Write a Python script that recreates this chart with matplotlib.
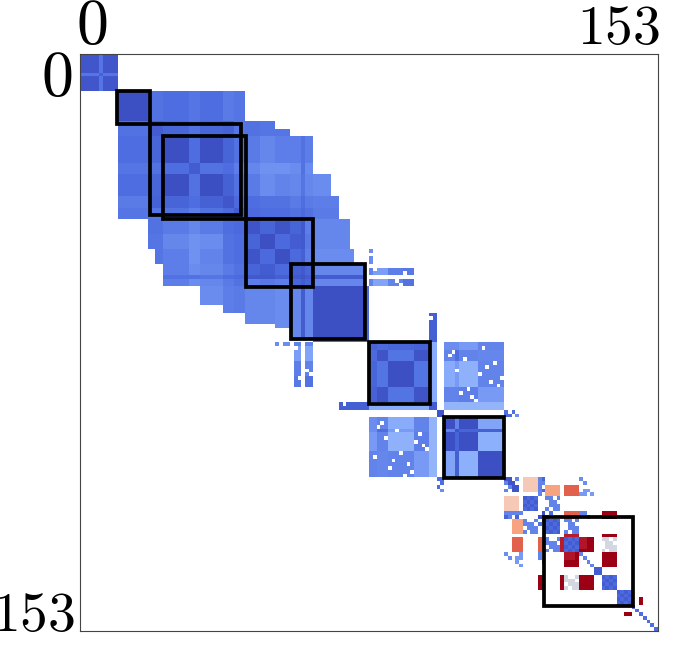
import matplotlib
matplotlib.use("Agg")
import matplotlib.pyplot as plt
import numpy as np
from matplotlib.colors import LinearSegmentedColormap
from matplotlib.patches import Rectangle
from matplotlib.transforms import ScaledTranslation

N = 154

# first isolated block
first_edges = [0, 5, 6, 10]
first_values = [[-.93, -.76, -.93],
                [-.86, -.76],
                [-.93]]

# big chain of overlapping segments, upper triangle by segment
chain_edges = [10, 18, 22, 29, 32, 38, 41, 44, 48, 52, 56, 59, 60, 62, 76]
chain_values = [
    [-.97, -.78, -.8, -.76, -.8, -.74, -.76, 0, 0, 0, 0, 0, 0, 0],
    [-.9, -.84, -.78, -.84, -.86, -.76, -.78, -.76, -.76, -.74, -.74, -.74, -.7],
    [-.97, -.8, -.97, -.85, -.78, -.74, -.68, -.72, -.72, -.78, -.72, -.7],
    [-.9, -.78, -.8, -.72, -.68, -.64, -.64, -.66, -.78, -.66, -.62],
    [-.98, -.87, -.78, -.74, -.66, -.7, -.68, -.76, -.68, -.66],
    [-.93, -.82, -.8, -.78, -.78, -.74, -.8, -.74, -.72],
    [-.9, -.82, -.8, -.8, -.78, -.82, -.78, -.74],
    [-.95, -.85, -.95, -.85, -.92, -.72, -.68],
    [-.97, -.82, -.9, -.92, -.75, -.68],
    [-.97, -.82, -.88, -.72, -.66],
    [-.88, -.92, -.84, -.68],
    [-.95, -.9, -.9],
    [-.85, -.68],
    [-.97],
]
# staircase: rows from this start reach only to the matching column
reach_start = [10, 18, 20, 22, 32, 38, 44, 52, 56]
reach_end = [44, 52, 56, 62, 67, 69, 72, 73, 76]

block6_edges = [77, 79, 82, 89, 93]
block6_values = [[-.85, -.82, -.84, -.86],
                 [-.95, -.77, -.95],
                 [-.97, -.77],
                 [-.95]]

block7_edges = [97, 100, 101, 106, 113]
block7_values = [[-.97, -.7, -.97, -.55],
                 [-.95, -.85, -.88],
                 [-.97, -.5],
                 [-.97]]

# block6 x block7 coupling
coupling_values = [[-.65, -.65, -.6, -.7],
                   [-.7, -.8, -.7, -.68],
                   [-.52, -.6, -.48, -.7],
                   [-.7, -.7, -.72, -.6]]

# row start, row end, col start, col end, value
extra_blocks = [
    (52, 53, 77, 78, -.65), (54, 56, 77, 78, -.65),
    (57, 59, 77, 78, -.7), (57, 59, 78, 82, -.58),
    (57, 59, 82, 86, -.72), (57, 59, 86, 89, -.75),
    (60, 62, 77, 78, -.7), (60, 62, 78, 82, -.55),
    (60, 62, 82, 86, -.7), (60, 62, 86, 89, -.78),
    (62, 77, 76, 77, -.82),
    (69, 77, 93, 95, -.88), (77, 93, 93, 95, -.52),
    (93, 95, 93, 95, -.9), (95, 97, 95, 97, -.95),
    (93, 95, 97, 113, -.45),
    (113, 117, 118, 122, .28), (115, 118, 124, 128, .5),
    (115, 118, 129, 133, .74), (122, 124, 129, 133, .74),
    (122, 124, 139, 143, 1), (128, 129, 139, 143, 1),
    (128, 129, 129, 133, .9), (129, 133, 133, 137, 1),
    (129, 132, 133, 135, .92), (133, 137, 139, 143, 1),
    (137, 139, 137, 139, -.9),
    (145, 147, 149, 150, 1),
]

white_cells = [(78, 107), (79, 99), (80, 98), (81, 102), (82, 110), (83, 108),
               (84, 100), (85, 106), (86, 112), (87, 109), (88, 111), (89, 103),
               (90, 101), (91, 104), (92, 105), (57, 78), (58, 86), (60, 84),
               (61, 85), (70, 93)]

checker_corners = [118, 124, 129, 139, 143]
checker_values = [[-.9, -.82, -.9, -.82],
                  [-.82, -.9, -.82, -.9],
                  [-.9, -.82, -.9, -.82],
                  [-.82, -.9, -.82, -.9]]

# corner block at the start of the red group
corner_values = [[-.95, -.95, 0, -.7],
                 [-.7, -.95, -.95, 0],
                 [0, -.7, -.95, -.95],
                 [-.7, 0, -.95, -.95]]

# sparse 4x4 patterns: row corner, col corner, value
cross_blocks = [(124, 129, -.7), (129, 139, -.07), (118, 124, -.7)]
cross_pattern = [[1, 1, 0, 1],
                 [0, 1, 1, 0],
                 [0, 1, 1, 1],
                 [1, 0, 1, 1]]

sparse_rows = [113, 113, 114, 115, 116, 116, 113, 114, 116, 116, 117, 117, 117,
               122, 122, 122, 122, 123, 122, 122, 122, 123, 124, 125,
               95, 96, 96, 95, 96, 133, 134, 135, 136, 148, 147, 149, 150, 151, 152, 153]
sparse_cols = [122, 123, 123, 122, 122, 123, 133, 134, 134, 135, 133, 134, 136,
               113, 114, 115, 116, 116, 117, 133, 134, 135, 123, 122,
               113, 113, 114, 115, 116, 133, 134, 135, 136, 148, 147, 149, 150, 151, 152, 153]
sparse_values = [-.7, -.85, -.7, -.85, -.7, -.85, -.65, -.65, -.6, -.6, -.6, -.6, -.6,
                 -.7, -.7, -.7, -.7, -.85, -.7, -.7, -.7, -.7, -.9, -.8,
                 -.8, -.8, -.8, -.8, -.65, -.7, -.7, -.7, -.7, -.8, -.8, -.8, -.8, -.8, -.8, -.8]
dark_diag = [(122, 123), (123, 123)]

# outlined communities, start and end in cell units
box_start = [9.9, 18.6, 22.0, 44.1, 56.1, 76.9, 96.9, 123.6]
box_end = [18.6, 43.0, 44.1, 62.2, 76.0, 93.3, 113.1, 147.3]

tick_positions = [0, 154]
tick_labels = [r"$0$", r"$153$"]

matrix = np.zeros((N, N))


def put(r0, r1, c0, c1, v):
    matrix[r0:r1, c0:c1] = v
    matrix[c0:c1, r0:r1] = v


def put_triangle(edges, table):
    for i, row in enumerate(table):
        for j, v in enumerate(row):
            put(edges[i], edges[i + 1], edges[i + j], edges[i + j + 1], v)


put_triangle(first_edges, first_values)
put_triangle(chain_edges, chain_values)

# cut the chain back to its staircase outline
for k, start in enumerate(reach_start):
    stop = reach_start[k + 1] if k + 1 < len(reach_start) else 76
    matrix[start:stop, reach_end[k]:77] = 0
    matrix[reach_end[k]:77, start:stop] = 0

put_triangle(block6_edges, block6_values)
put_triangle(block7_edges, block7_values)
for i, row in enumerate(coupling_values):
    for j, v in enumerate(row):
        put(block6_edges[i], block6_edges[i + 1], block7_edges[j], block7_edges[j + 1], v)

for r0, r1, c0, c1, v in extra_blocks:
    put(r0, r1, c0, c1, v)

for corner in checker_corners:
    for i, row in enumerate(checker_values):
        for j, v in enumerate(row):
            matrix[corner + i, corner + j] = v

for i, row in enumerate(corner_values):
    for j, v in enumerate(row):
        matrix[113 + i, 113 + j] = v

for r, c, v in cross_blocks:
    for i, row in enumerate(cross_pattern):
        for j, on in enumerate(row):
            put(r + i, r + i + 1, c + j, c + j + 1, v if on else 0)

for r, c, v in zip(sparse_rows, sparse_cols, sparse_values):
    put(r, r + 1, c, c + 1, v)
for r, c in dark_diag:
    put(r, r + 1, c, c + 1, -.97)
for r, c in white_cells:
    put(r, r + 1, c, c + 1, 0)

anchors = [(0, (58/255, 76/255, 192/255)), (.1, (78/255, 110/255, 225/255)),
           (.25, (141/255, 176/255, 254/255)), (.5, (221/255, 221/255, 221/255)),
           (.6, (245/255, 215/255, 200/255)), (.675, (245/255, 190/255, 165/255)),
           (.75, (248/255, 165/255, 130/255)),
           (.875, (226/255, 95/255, 75/255)), (.975, (170/255, 10/255, 35/255)),
           (1, (155/255, 0, 20/255))]
cmap = LinearSegmentedColormap.from_list("corr", anchors)
cmap.set_bad("white")

plt.rcParams["mathtext.fontset"] = "cm"

fig = plt.figure(figsize=(6.77, 6.5), dpi=100)
ax = fig.add_axes([80 / 677, 1 - 631 / 650, 578 / 677, 577 / 650])
ax.imshow(np.ma.masked_equal(matrix, 0), cmap=cmap, vmin=-1, vmax=1,
          extent=(0, N, N, 0), interpolation="nearest", aspect="auto")

for s, e in zip(box_start, box_end):
    ax.add_patch(Rectangle((s, s), e - s, e - s, fill=False, ec="black", lw=2.7))

ax.xaxis.tick_top()
ax.set_xticks(tick_positions, tick_labels)
ax.set_yticks(tick_positions, tick_labels)
ax.tick_params(length=0, pad=7)

x0, x1 = ax.get_xticklabels()
y0, y1 = ax.get_yticklabels()
x0.set(ha="left", va="baseline", fontsize=46)
x1.set(ha="right", va="baseline", fontsize=40)
y0.set(va="top", fontsize=46)
y1.set(va="baseline", fontsize=40)


def nudge(label, dx, dy):
    label.set_transform(label.get_transform()
                        + ScaledTranslation(dx / 100, dy / 100, fig.dpi_scale_trans))


nudge(x0, -4, 0)
nudge(x1, 2, 0)
nudge(y0, 2, 7)
nudge(y1, 5, 0)

for spine in ax.spines.values():
    spine.set_linewidth(0.8)
    spine.set_color("#444444")

fig.savefig("out.png", dpi=100)
